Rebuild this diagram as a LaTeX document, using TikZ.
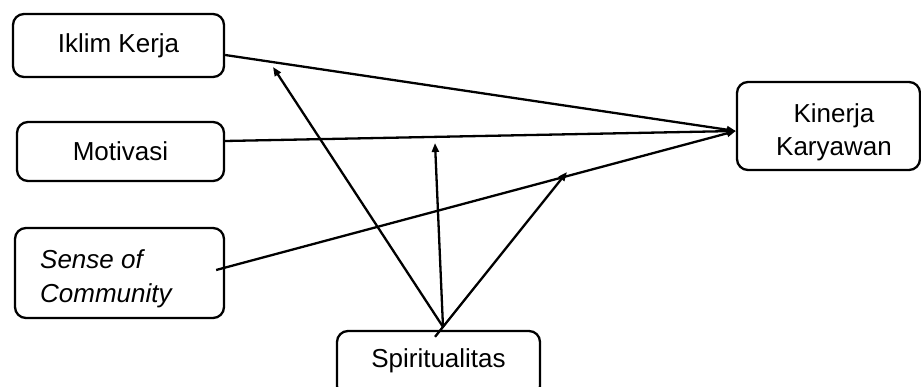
\documentclass[tikz,border=0pt]{standalone}
\usepackage{fontspec}
\setmainfont{Liberation Sans}
\usetikzlibrary{arrows.meta,calc}
\begin{document}
\begin{tikzpicture}[x=1pt,y=-1pt,
  box/.style={draw,line width=2.3pt,rounded corners=11pt,inner sep=0pt},
  txt/.style={font=\fontsize{26}{33}\selectfont,inner sep=0pt,align=center},
  arr/.style={line width=2.3pt,-{Triangle[length=9pt,width=7pt]}}]
\useasboundingbox (0,0) rectangle (921,387);
\node[box,txt,minimum width=211pt,minimum height=63pt] (ik) at (118.5,45.5) {Iklim Kerja};
\node[box,txt,minimum width=207pt,minimum height=59pt] (mo) at (120.5,151.5) {Motivasi};
\node[box,minimum width=209pt,minimum height=90pt] (sc) at (119.5,273) {};
\node[txt,align=left,anchor=west,font=\fontsize{26}{34}\selectfont\itshape] (sct) at (40,279) {Sense of\\Community};
\node[box,minimum width=183pt,minimum height=88pt] (kk) at (828.5,126) {};
\node[txt] (kkt) at (834,132) {Kinerja\\Karyawan};
\node[box,txt,minimum width=203pt,minimum height=66pt] (sp) at (438.5,364) {};
\node[txt] (spt) at (438.5,361) {Spiritualitas};
\coordinate (t1) at (273,67);
\coordinate (t2) at (435,143);
\coordinate (t3) at (567,172);
\draw[arr] ($(ik.east)+(0,9.5)$) -- ($(kk.west)+(0,5)$);
\draw[arr] ($(mo.east)+(0,-10.5)$) -- ($(kk.west)+(0,5)$);
\draw[arr] ($(sc.east)+(-9,-3)$) -- ($(kk.west)+(0,5)$);
\draw[arr] ($(sp.north)+(4.5,-3)$) -- (t1);
\draw[arr] ($(sp.north)+(4.5,-3)$) -- (t2);
\draw[arr] ($(sp.north)+(-3.5,7)$) -- (t3);
\end{tikzpicture}
\end{document}
